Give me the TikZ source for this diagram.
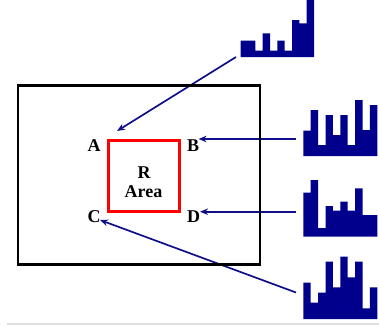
\documentclass[tikz,border=0pt]{standalone}
\usepackage{fontspec}
\setmainfont{Liberation Serif}
\usetikzlibrary{arrows.meta}
\definecolor{navy}{RGB}{0,0,140}
\definecolor{arrowblue}{RGB}{15,15,140}
\newcommand\drawhisto[4]{% x0, bottom, bar width, list of tops
  \fill[navy] (#1,#2) \foreach \t [count=\i from 0] in {#4} { -- ({#1+\i*#3},\t) -- ({#1+(\i+1)*#3},\t) } -- ({#1+10*#3},#2) -- cycle;
}
\newcommand\lblfont{\fontsize{18}{20}\selectfont\bfseries}
\begin{document}
\begin{tikzpicture}[x=1pt,y=-1pt,
  lbl/.style={font=\lblfont, inner sep=0pt},
  conn/.style={draw=arrowblue, line width=1.7pt, -{Stealth[length=8pt,width=6.5pt]}}]
\useasboundingbox (0,0) rectangle (379,330);

% histograms
\drawhisto{240.7}{57}{7.33}{40.7,40.7,50.7,33.3,50.7,40.7,50.7,20,23.3,0}
\drawhisto{303.3}{156}{7.4}{130.7,110,145,115,135,115,145,100,130,105}
\drawhisto{303.3}{236.7}{7.4}{192.7,180,228,206,210.7,201.7,210.7,188.3,215,215}
\drawhisto{303.3}{319}{7.4}{282.7,302.7,292.7,261.7,287.3,256.7,277.3,261.7,308.3,287.3}

% arrow end points
\coordinate (s1) at (236,57);
\coordinate (tA) at (117,131);
\coordinate (s2) at (296,139);
\coordinate (tB) at (198.5,139);
\coordinate (s3) at (296,211.7);
\coordinate (tD) at (200,211.7);
\coordinate (s4) at (296,292.5);
\coordinate (tC) at (100,220);

\draw[conn] (s1) -- (tA);
\draw[conn] (s2) -- (tB);
\draw[conn] (s3) -- (tD);
\draw[conn] (s4) -- (tC);

% frame and area
\node[draw=black, line width=2.6pt, inner sep=0pt, minimum width=242pt, minimum height=179pt] (frame) at (139,175) {};
\node[draw=red, line width=3pt, inner sep=0pt, minimum width=71pt, minimum height=71pt] (area) at (143.5,175.5) {};

\node[lbl] (R) at (144,172.5) {R};
\node[lbl] (Area) at (143.5,192) {Area};
\node[lbl] (A) at (94,146) {A};
\node[lbl] (B) at (193,145.5) {B};
\node[lbl] (C) at (94,217) {C};
\node[lbl] (D) at (193.5,217) {D};

\draw[gray!25, line width=2pt] (7,324) -- (379,324);
\end{tikzpicture}
\end{document}
